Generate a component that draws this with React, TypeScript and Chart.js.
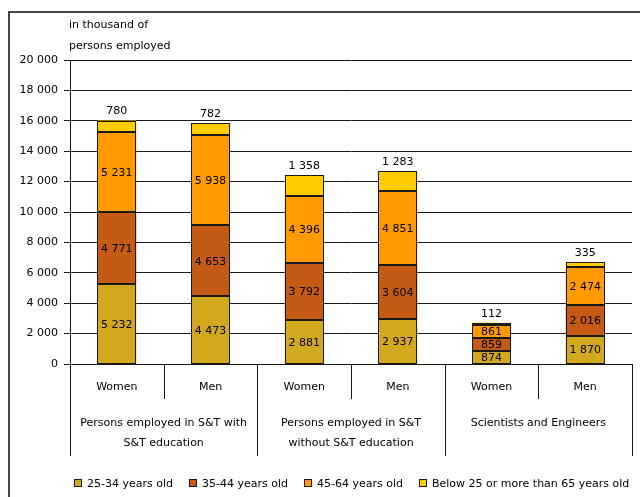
import React, { useEffect, useRef } from "react";
import { Chart, registerables } from "chart.js";

Chart.register(...registerables);

// Bars, left to right: women / men within each employment group
const categories = ["Women", "Men", "Women", "Men", "Women", "Men"];
const groups = [
  ["Persons employed in S&T with", "S&T education"],
  ["Persons employed in S&T", "without S&T education"],
  ["Scientists and Engineers"],
];

// in thousand of persons employed
const age25to34 = [5232, 4473, 2881, 2937, 874, 1870];
const age35to44 = [4771, 4653, 3792, 3604, 859, 2016];
const age45to64 = [5231, 5938, 4396, 4851, 861, 2474];
const ageOther = [780, 782, 1358, 1283, 112, 335];

const seriesNames = [
  "25-34 years old",
  "35-44 years old",
  "45-64 years old",
  "Below 25 or more than 65 years old",
];
const seriesColors = ["#D1A81E", "#C45A13", "#FF9A00", "#FFCC00"];

const yTicks = [0, 2000, 4000, 6000, 8000, 10000, 12000, 14000, 16000, 18000, 20000];
const yTitle = ["in thousand of", "persons employed"];

const FONT = "'DejaVu Sans', sans-serif";
const TEXT = "#000";
const LINE = "#1a1a1a";

const fmt = (n: number) => String(n).replace(/\B(?=(\d{3})+(?!\d))/g, " ");

const decorations = {
  id: "decorations",
  afterDatasetsDraw(chart: any) {
    const { ctx, chartArea } = chart;
    const { left, right, bottom } = chartArea;
    const xs = chart.scales.x;
    ctx.save();

    // dark outline around every stacked segment
    ctx.strokeStyle = LINE;
    ctx.lineWidth = 1;
    chart.data.datasets.forEach((_ds: any, di: number) => {
      chart.getDatasetMeta(di).data.forEach((bar: any) => {
        const x0 = Math.round(bar.x - bar.width / 2) + 0.5;
        const x1 = Math.round(bar.x + bar.width / 2) - 0.5;
        const y0 = Math.round(bar.y) + 0.5;
        const y1 = Math.round(bar.base) - 0.5;
        ctx.strokeRect(x0, y0, x1 - x0, y1 - y0);
      });
    });

    ctx.font = `11px ${FONT}`;
    ctx.fillStyle = TEXT;
    ctx.textAlign = "center";
    ctx.textBaseline = "middle";

    // segment values
    chart.data.datasets.forEach((ds: any, di: number) => {
      const meta = chart.getDatasetMeta(di);
      meta.data.forEach((bar: any, i: number) => {
        const v = ds.data[i];
        if (di < 3) {
          ctx.fillText(fmt(v), bar.x, (bar.y + bar.base) / 2 + 1);
        } else {
          ctx.fillText(fmt(v), bar.x, bar.y - 9);
        }
      });
    });

    // category labels and separators below the axis
    const n = categories.length;
    const step = (right - left) / n;
    categories.forEach((c, i) => {
      ctx.fillText(c, xs.getPixelForValue(i), 387);
    });
    ctx.strokeStyle = LINE;
    ctx.lineWidth = 1;
    for (let i = 0; i <= n; i++) {
      const x = Math.round(left + i * step) + 0.5;
      ctx.beginPath();
      ctx.moveTo(x, bottom);
      ctx.lineTo(x, i % 2 === 0 ? 456 : 399);
      ctx.stroke();
    }
    groups.forEach((lines, g) => {
      const cx = left + (g * 2 + 1) * step;
      lines.forEach((t, k) => ctx.fillText(t, cx, 423 + k * 20));
    });

    // axis title
    ctx.textAlign = "left";
    yTitle.forEach((t, k) => ctx.fillText(t, 69, 25 + k * 21));

    // legend
    let lx = 74;
    const ly = 483;
    chart.data.datasets.forEach((ds: any) => {
      ctx.fillStyle = ds.backgroundColor;
      ctx.fillRect(lx, ly - 4, 8, 8);
      ctx.strokeStyle = LINE;
      ctx.strokeRect(lx + 0.5, ly - 3.5, 7, 7);
      ctx.fillStyle = TEXT;
      ctx.fillText(ds.label, lx + 13, ly + 1);
      lx += 13 + ctx.measureText(ds.label).width + 16;
    });

    // outer frame
    ctx.strokeStyle = "#444";
    ctx.lineWidth = 2;
    ctx.beginPath();
    ctx.moveTo(9, 497);
    ctx.lineTo(9, 12);
    ctx.lineTo(640, 12);
    ctx.stroke();
    ctx.restore();
  },
};

export default function App() {
  const ref = useRef<HTMLCanvasElement | null>(null);

  useEffect(() => {
    if (!ref.current) return;
    const data = [age25to34, age35to44, age45to64, ageOther];
    const chart = new Chart(ref.current, {
      type: "bar",
      data: {
        labels: categories,
        datasets: data.map((d, i) => ({
          label: seriesNames[i],
          data: d,
          backgroundColor: seriesColors[i],
          borderWidth: 0,
          categoryPercentage: 1,
          barPercentage: 0.415,
        })),
      },
      options: {
        responsive: false,
        animation: false,
        devicePixelRatio: 1,
        layout: { padding: { left: 0, right: 8, top: 60, bottom: 0 } },
        plugins: {
          legend: { display: false },
          tooltip: { enabled: false },
        },
        scales: {
          x: {
            stacked: true,
            grid: { display: false },
            border: { display: false },
            ticks: { display: false },
            afterFit: (s: any) => {
              s.height = 133;
            },
          },
          y: {
            stacked: true,
            min: 0,
            max: 20000,
            afterBuildTicks: (s: any) => {
              s.ticks = yTicks.map((v) => ({ value: v }));
            },
            afterFit: (s: any) => {
              s.width = 70;
            },
            grid: { color: LINE, lineWidth: 1, tickLength: 6, drawTicks: true },
            border: { display: true, color: LINE, width: 1 },
            ticks: {
              padding: 6,
              color: TEXT,
              font: { family: FONT, size: 11 },
              callback: (v: any) => fmt(Number(v)),
            },
          },
        },
      },
      plugins: [decorations],
    });
    return () => chart.destroy();
  }, []);

  return (
    <div style={{ position: "fixed", left: 0, top: 0, width: 640, height: 497, background: "#fff" }}>
      <canvas ref={ref} width={640} height={497} />
    </div>
  );
}
